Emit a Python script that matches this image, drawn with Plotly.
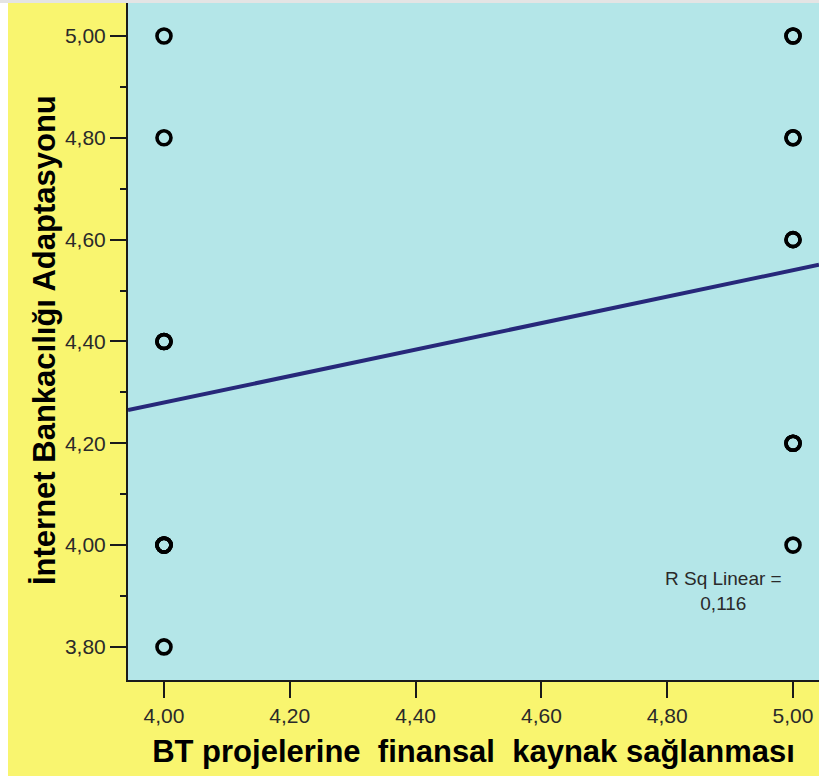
import numpy as np
import plotly.graph_objects as go

# Observations: IT project financing score vs. internet banking adaptation
bt_financing = [4.0, 4.0, 4.0, 4.0, 4.0, 4.0, 4.0, 4.0, 4.0, 4.0,
                5.0, 5.0, 5.0, 5.0, 5.0, 5.0, 5.0, 5.0, 5.0, 5.0]
ib_adaptation = [5.0, 4.8, 4.4, 4.4, 4.4, 4.0, 4.0, 4.0, 4.0, 3.8,
                 5.0, 5.0, 4.8, 4.8, 4.6, 4.6, 4.2, 4.2, 4.2, 4.0]

x_ticks = [4.0, 4.2, 4.4, 4.6, 4.8, 5.0]
y_ticks = [3.8, 4.0, 4.2, 4.4, 4.6, 4.8, 5.0]
x_range = [3.9428, 5.0413]
y_range = [3.735, 5.0648]

x_title = "BT projelerine\u00a0 finansal\u00a0 kaynak sağlanması"
y_title = "İnternet Bankacılığı Adaptasyonu"

# Linear fit and R squared
xa = np.array(bt_financing)
ya = np.array(ib_adaptation)
slope, intercept = np.polyfit(xa, ya, 1)
pred = slope * xa + intercept
r2 = 1 - np.sum((ya - pred) ** 2) / np.sum((ya - ya.mean()) ** 2)
fit_x = np.array(x_range)
fit_y = slope * fit_x + intercept

W, H = 819, 782
ML, MR, MT, MB = 128, 0, 3, 102
pw, ph = W - ML - MR, H - MT - MB

def px_x(p):
    return (p - ML) / pw

def px_y(p):
    return (H - MB - p) / ph

fig = go.Figure()
fig.add_trace(go.Scatter(
    x=fit_x, y=fit_y, mode="lines",
    line=dict(color="#27287a", width=4),
    hoverinfo="skip", showlegend=False,
))
fig.add_trace(go.Scatter(
    x=bt_financing, y=ib_adaptation, mode="markers",
    marker=dict(symbol="circle-open", size=14, color="#000000",
                line=dict(color="#000000", width=3.6)),
    showlegend=False, cliponaxis=False,
))

label_font = dict(family="Liberation Sans, Arial, sans-serif", size=19, color="#2a2a2a")
fig.add_annotation(x=4.890, y=3.910, xref="x", yref="y",
                   text="R Sq Linear =<br>" + f"{r2:.3f}".replace(".", ","),
                   showarrow=False, font=label_font, align="center",
                   xanchor="center", yanchor="middle")

title_font = dict(family="Liberation Sans, Arial, sans-serif", size=31,
                  color="#000000", weight="bold")

# Vertical axis title
fig.add_annotation(x=px_x(45), y=px_y(340), xref="paper", yref="paper",
                   text=y_title, textangle=-90, showarrow=False,
                   font=title_font, xanchor="center", yanchor="middle")

# White border strips around the yellow chart frame
shapes = [
    dict(type="rect", xref="paper", yref="paper", layer="below",
         x0=px_x(0), x1=px_x(8), y0=px_y(H), y1=px_y(0),
         fillcolor="#ffffff", line=dict(width=0)),
    dict(type="rect", xref="paper", yref="paper", layer="below",
         x0=px_x(0), x1=px_x(W), y0=px_y(3), y1=px_y(0),
         fillcolor="#e4e4e4", line=dict(width=0)),
    dict(type="rect", xref="paper", yref="paper", layer="below",
         x0=px_x(0), x1=px_x(W), y0=px_y(H), y1=px_y(776),
         fillcolor="#ffffff", line=dict(width=0)),
]

tick_font = dict(family="Liberation Sans, Arial, sans-serif", size=21, color="#2a2a2a")

fig.update_layout(
    width=W, height=H,
    margin=dict(l=ML, r=MR, t=MT, b=MB),
    paper_bgcolor="#f9f56f",
    plot_bgcolor="#b4e6e8",
    separators=",.",
    shapes=shapes,
    xaxis=dict(
        range=x_range, tickvals=x_ticks, tickformat=".2f",
        showgrid=False, zeroline=False,
        showline=True, linecolor="#1a1a1a", linewidth=2,
        ticks="outside", ticklen=16, tickwidth=2, tickcolor="#1a1a1a",
        tickfont=tick_font,
        title=dict(text=x_title, font=title_font, standoff=14),
    ),
    yaxis=dict(
        range=y_range, tickvals=y_ticks, tickformat=".2f",
        showgrid=False, zeroline=False,
        showline=True, linecolor="#1a1a1a", linewidth=2,
        ticks="outside", ticklen=16, tickwidth=2, tickcolor="#1a1a1a",
        tickfont=tick_font,
        minor=dict(dtick=0.1, tick0=3.8, ticks="outside", ticklen=6,
                   tickwidth=2, tickcolor="#1a1a1a", showgrid=False),
    ),
)

fig.write_html("out.html")
